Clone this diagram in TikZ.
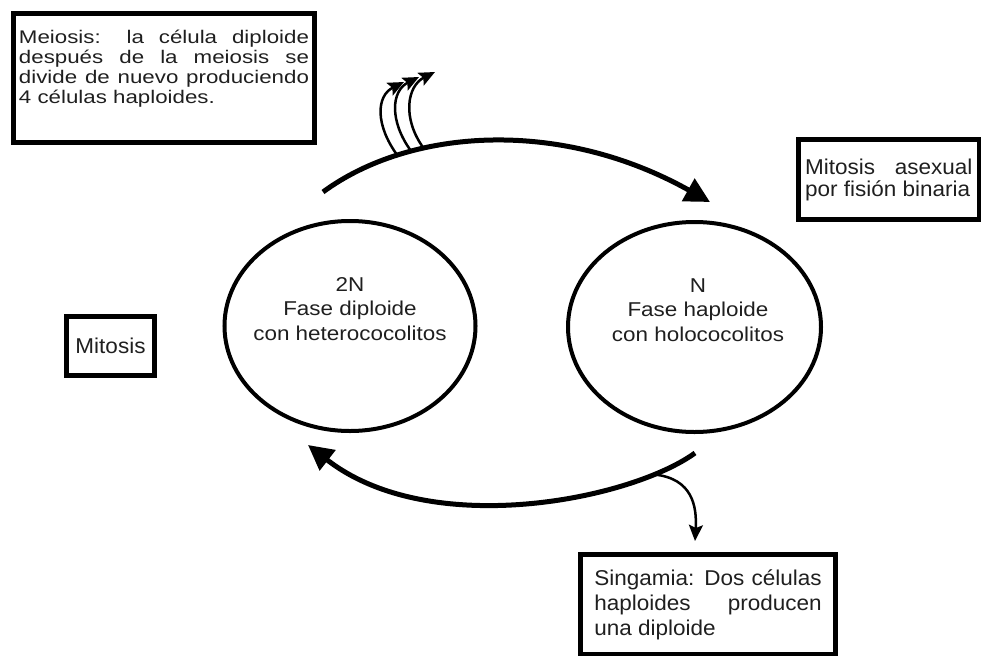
\documentclass[tikz,border=0pt]{standalone}
\usepackage{fontspec}
\setmainfont{Liberation Sans}
\newfontfamily\wideface{Liberation Sans}[FakeStretch=1.22]
\newfontfamily\phaseface{Liberation Sans}[FakeStretch=1.12]
\newfontfamily\boxface{Liberation Sans}[FakeStretch=1.05]
\usetikzlibrary{shapes.geometric,arrows.meta,calc}

\begin{document}
\begin{tikzpicture}[
  x=0.2mm, y=-0.2mm,
  every node/.style={text=black!88},
  frame/.style={draw=black, line width=1mm, inner sep=0pt},
  phase/.style={draw=black, ellipse, line width=0.8mm, minimum height=42mm, inner sep=0pt},
  phasetxt/.style={align=center, font=\phaseface\fontsize{11.4}{13.9}\selectfont},
  cycle/.style={line width=1mm, -{Triangle[length=5mm,width=5mm]}},
  burst/.style={line width=0.5mm, -{Stealth[length=3.2mm,width=2.8mm,inset=0.6mm]}},
]
\useasboundingbox (0,0) rectangle (981,656);
% the two phases
\node[phase, minimum width=50.2mm] (dip) at (350,326) {};
\node[phasetxt] (diptxt) at (350,309) {2N\\Fase diploide\\con heterococolitos};
\node[phase, minimum width=50.6mm] (hap) at (694.5,327) {};
\node[phasetxt] (haptxt) at (698,310) {N\\Fase haploide\\con holococolitos};
% cycle arrows
\coordinate (topA) at (323,192);
\coordinate (topB) at (710,202);
\coordinate (botA) at (695,453);
\coordinate (botB) at (308,445);
\draw[cycle] (topA) .. controls (410,128) and (560,118) .. (topB)
  coordinate[pos=0.245] (m1) coordinate[pos=0.285] (m2) coordinate[pos=0.32] (m3);
\draw[cycle] (botA) .. controls (630,500) and (430,540) .. (botB)
  coordinate[pos=0.16] (s0);
% four haploid cells leaving
\foreach \k/\tx/\ty in {1/404/82, 2/419/77, 3/435/72} {
  \coordinate (t\k) at (\tx,\ty);
  \draw[burst] (m\k) .. controls ($(m\k)+(-22,-30)$) and ($(t\k)+(-28,14)$) .. (t\k);
}
% singamia
\coordinate (stip) at (695,541);
\draw[burst] (s0) .. controls ($(s0)+(38,4)$) and ($(stip)+(2,-35)$) .. (stip);
% boxes
\node[frame, anchor=north, text width=58mm, inner xsep=1.1mm, inner ysep=3.4mm, align=justify,
  font={\wideface\fontsize{10.4}{11.4}\selectfont\tolerance10000 }] (meio) at (164,10.5)
  {Meiosis: la célula diploide\linebreak después de la meiosis se\linebreak divide de nuevo produciendo\linebreak 4 células haploides.\par\vspace{3.7mm}\hrule height 0pt};
\node[frame, text width=33.5mm, inner xsep=1.3mm, minimum height=16mm, align=justify,
  font={\boxface\fontsize{12.2}{12.5}\selectfont\tolerance10000 }] (asex) at (888.75,179.5)
  {Mitosis asexual\linebreak por fisión binaria};
\node[frame, minimum width=17.6mm, minimum height=11.8mm,
  font=\boxface\fontsize{12.2}{14}\selectfont] (mito) at (110.5,346) {Mitosis};
\node[frame, text width=45.5mm, inner xsep=2.75mm, minimum height=20mm, align=justify,
  font={\boxface\fontsize{12.2}{14.2}\selectfont\tolerance10000 }] (sing) at (708,604.5)
  {Singamia: Dos células\linebreak haploides producen\linebreak una diploide};
\end{tikzpicture}
\end{document}
